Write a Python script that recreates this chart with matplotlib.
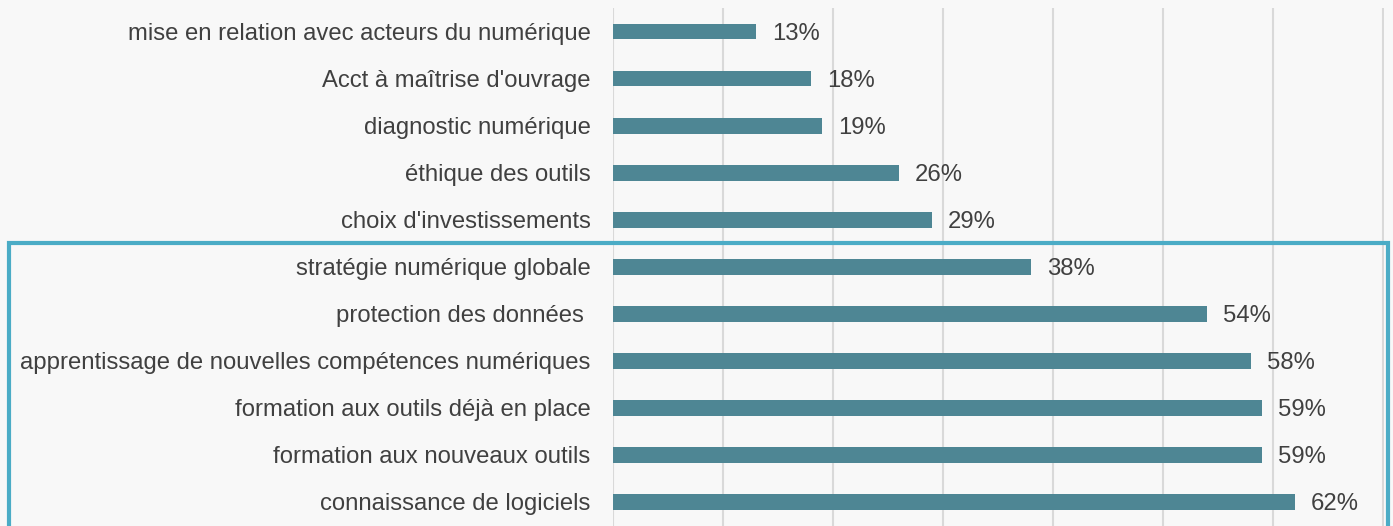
import matplotlib
matplotlib.use("Agg")
import matplotlib.pyplot as plt
from matplotlib.patches import Rectangle

categories = [
    "mise en relation avec acteurs du numérique",
    "Acct à maîtrise d'ouvrage",
    "diagnostic numérique",
    "éthique des outils",
    "choix d'investissements",
    "stratégie numérique globale",
    "protection des données ",
    "apprentissage de nouvelles compétences numériques",
    "formation aux outils déjà en place",
    "formation aux nouveaux outils",
    "connaissance de logiciels",
]
values = [13, 18, 19, 26, 29, 38, 54, 58, 59, 59, 62]
ticks = [0, 10, 20, 30, 40, 50, 60, 70]

plt.rcParams['font.family'] = ['Liberation Sans', 'DejaVu Sans']
bg = "#F8F8F8"
txt = "#404040"
bar_color = "#4E8694"
fs = 17.2

fig = plt.figure(figsize=(13.93, 5.26), dpi=100, facecolor=bg)
ax = fig.add_axes([613/1393, 0.0, (1384-613)/1393, 1 - 8/526])
ax.set_facecolor(bg)

y = list(range(len(categories)))
ax.barh(y, values, height=0.34, color=bar_color, zorder=3)
for yi, v in zip(y, values):
    ax.text(v + 1.45, yi, f"{v}%", va="center_baseline", ha="left", fontsize=fs, color=txt, zorder=4)

ax.set_yticks(y)
ax.set_yticklabels(categories, fontsize=fs, color=txt, va="center_baseline")
ax.set_ylim(len(categories) - 0.5 + 0.02, -0.5)
ax.set_xlim(0, 70.1)
ax.set_xticks(ticks)
ax.tick_params(axis='x', length=0, labelbottom=False)
ax.tick_params(axis='y', length=0, pad=16.2)
ax.grid(axis='x', color="#D9D9D9", linewidth=1.5, zorder=0)
for s in ax.spines.values():
    s.set_visible(False)

box = Rectangle((9/1393, -0.05), (1388-9)/1393, 1 - 243/526 + 0.05,
                transform=fig.transFigure, fill=False, edgecolor="#4BACC6",
                linewidth=3.0, clip_on=False, zorder=10)
fig.patches.append(box)

fig.savefig("out.png", dpi=100, facecolor=bg)
